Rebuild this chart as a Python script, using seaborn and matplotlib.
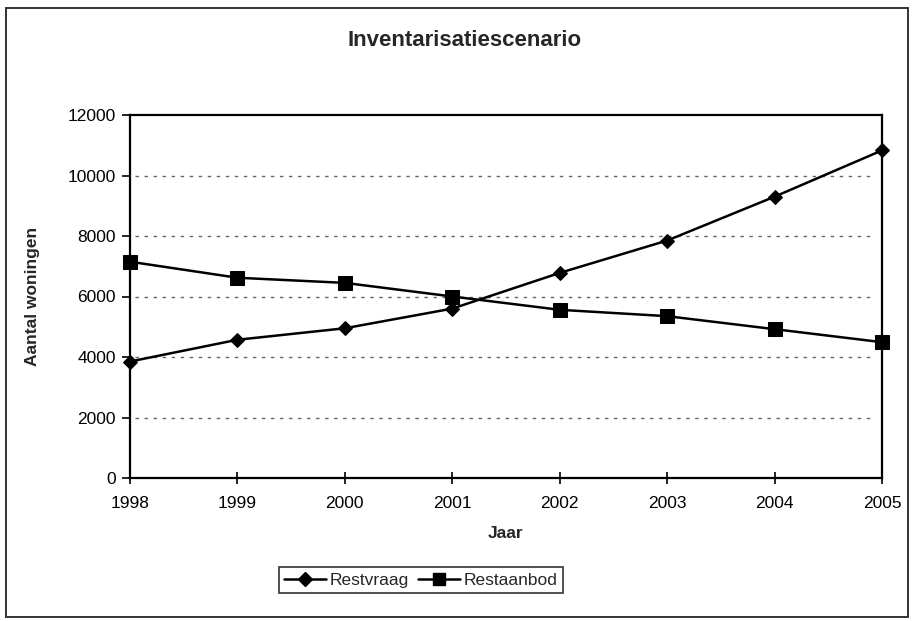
"""Inventarisatiescenario: restvraag vs restaanbod"""
import numpy as np
import pandas as pd
import matplotlib
matplotlib.use("Agg")
import matplotlib.pyplot as plt
from matplotlib.patches import Rectangle
from matplotlib.lines import Line2D
import seaborn as sns


### data
years = [1998, 1999, 2000, 2001, 2002, 2003, 2004, 2005]
restvraag = [3850, 4570, 4950, 5600, 6780, 7850, 9300, 10830]
restaanbod = [7150, 6620, 6450, 6000, 5560, 5350, 4920, 4490]
y_ticks = [0, 2000, 4000, 6000, 8000, 10000, 12000]

title = "Inventarisatiescenario"
x_label = "Jaar"
y_label = "Aantal woningen"


df = pd.DataFrame({
    "Jaar": years * 2,
    "waarde": restvraag + restaanbod,
    "reeks": ["Restvraag"] * len(years) + ["Restaanbod"] * len(years),
})

sns.set_style("white")
plt.rcParams["font.family"] = ["Liberation Sans", "DejaVu Sans"]

fig = plt.figure(figsize=(9.14, 6.21), dpi=100)
ax = fig.add_axes([130 / 914, 143 / 621, 752 / 914, 363 / 621])

# dashed gridlines (not at 0 / top)
for v in y_ticks[1:-1]:
    ax.axhline(v, xmin=0.006, xmax=0.985, color="#666666", lw=1.0,
               linestyle=(0, (2.5, 4)), zorder=1)

sns.lineplot(data=df, x="Jaar", y="waarde", hue="reeks", style="reeks",
             markers={"Restvraag": "D", "Restaanbod": "s"},
             dashes=False, palette={"Restvraag": "black", "Restaanbod": "black"},
             markersize=9, linewidth=1.8, markeredgecolor="black",
             ax=ax, zorder=3, legend=False)

# marker sizes differ a bit, and markers sit over the axes edge
for line in ax.get_lines():
    if line.get_marker() == "D":
        line.set_markersize(7.5)
        line.set_clip_on(False)
    elif line.get_marker() == "s":
        line.set_markersize(10)
        line.set_clip_on(False)

ax.set_xlim(years[0], years[-1])
ax.set_ylim(y_ticks[0], y_ticks[-1])
ax.set_xticks(years)
ax.set_yticks(y_ticks)
ax.tick_params(axis="x", direction="inout", length=8, width=1.2, pad=9,
               labelsize=12.5, colors="black", bottom=True)
ax.tick_params(axis="y", direction="out", length=6, width=1.2, pad=4,
               labelsize=12.5, colors="black", left=True)

for s in ax.spines.values():
    s.set_visible(True)
    s.set_color("black")
    s.set_linewidth(1.6)

ax.set_xlabel(x_label, fontsize=12.5, fontweight="bold", labelpad=11)
ax.set_ylabel(y_label, fontsize=12.5, fontweight="bold", labelpad=20)

fig.text(465 / 914, 1 - 40 / 621, title, ha="center", va="center",
         fontsize=16, fontweight="bold")

# legend
handles = [
    Line2D([], [], color="black", lw=1.8, marker="D", markersize=7),
    Line2D([], [], color="black", lw=1.8, marker="s", markersize=8),
]
leg = fig.legend(handles, ["Restvraag", "Restaanbod"], loc="center",
                 bbox_to_anchor=(421 / 914, 1 - 580 / 621), ncol=2,
                 frameon=True, fancybox=False, fontsize=12.5,
                 handlelength=2.4, handletextpad=0.25, columnspacing=0.5,
                 borderpad=0.3, edgecolor="black")
leg.get_frame().set_linewidth(1.2)

# outer chart frame
fig.patches.append(Rectangle((6 / 914, 4 / 621), 902 / 914, 609 / 621,
                             transform=fig.transFigure, fill=False,
                             edgecolor="#333333", lw=1.4))

fig.savefig("out.png", dpi=100)
